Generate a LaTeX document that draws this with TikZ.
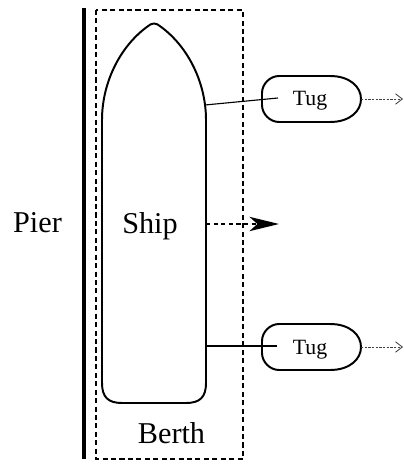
\documentclass[tikz,border=0pt]{standalone}
\usepackage{fontspec}
\setmainfont{Liberation Serif}
\usetikzlibrary{arrows.meta, positioning, calc}

\begin{document}
\begin{tikzpicture}[
  x=0.025cm, y=-0.025cm,
  pier/.style={black, line width=2.8pt},
  berth/.style={black, line width=1.8pt, dash pattern=on 3.6pt off 2.4pt},
  hull/.style={black, line width=1.4pt, line join=round},
  tughull/.style={black, line width=1.4pt, line join=round},
  tow/.style={black, line width=0.8pt},
  shove/.style={-{Stealth[length=7.4mm, width=3.6mm, inset=2mm]}, black,
                line width=1.1pt, dash pattern=on 3pt off 2.4pt},
  drift/.style={-{Straight Barb[length=1.7mm, width=2.6mm]}, black!75,
                line width=0.6pt, dash pattern=on 1.6pt off 1pt},
  big/.style={font=\fontsize{21.5}{24}\selectfont, inner sep=0pt, anchor=base},
  small/.style={font=\fontsize{15.5}{17}\selectfont, inner sep=0pt, anchor=base}
]
  \useasboundingbox (0,0) rectangle (403,464);

  %--- pier and berth ---
  \coordinate (pierTop) at (84,8);
  \coordinate (pierBot) at (84,459);
  \draw[pier] (pierTop) -- (pierBot);
  \node[big] (pierLbl) at (37.5,232) {Pier};

  \draw[berth] (96,10) rectangle (243,459);
  \node[big] (berthLbl) at (171.5,443) {Berth};

  %--- ship hull (pointed bow, rounded stern) ---
  \draw[hull] (102,120) .. controls (102,81) and (121.6,43.5) .. (150.7,24.3)
    .. controls (152.3,23.2) and (155.7,23.2) .. (157.3,24.3)
    .. controls (186.4,43.5) and (206,81) .. (206,120)
    -- (206,383) .. controls (206,397) and (200,403) .. (186,403)
    -- (122,403) .. controls (108,403) and (102,397) .. (102,383) -- cycle;
  \node[big] (ship) at (150,233) {Ship};

  % sideways push off the berth
  \coordinate (pushFrom) at (206,224);
  \coordinate (pushTo) at (279,224);
  \draw[shove] (pushFrom) -- (pushTo);

  %--- tugs ---
  \foreach \t/\cy in {A/99, B/347} {
    \draw[tughull] (330,\cy-23) .. controls (350,\cy-23) and (361,\cy-12) .. (361,\cy)
      .. controls (361,\cy+12) and (350,\cy+23) .. (330,\cy+23)
      -- (279,\cy+23) .. controls (270,\cy+23) and (262,\cy+15) .. (262,\cy+6)
      -- (262,\cy-6) .. controls (262,\cy-15) and (270,\cy-23) .. (279,\cy-23)
      -- cycle;
    \node[small] (tug\t) at (310,\cy+7) {Tug};
    \coordinate (bow\t) at (361,\cy);
    \coordinate (ahead\t) at (403,\cy);
    \draw[drift] (bow\t) -- (ahead\t);
  }

  % tow lines
  \coordinate (hitchA) at (205,105);
  \coordinate (towA) at (278,98);
  \coordinate (hitchB) at (206,346);
  \coordinate (towB) at (277,346);
  \draw[tow] (hitchA) -- (towA);
  \draw[tow] (hitchB) -- (towB);

\end{tikzpicture}
\end{document}
